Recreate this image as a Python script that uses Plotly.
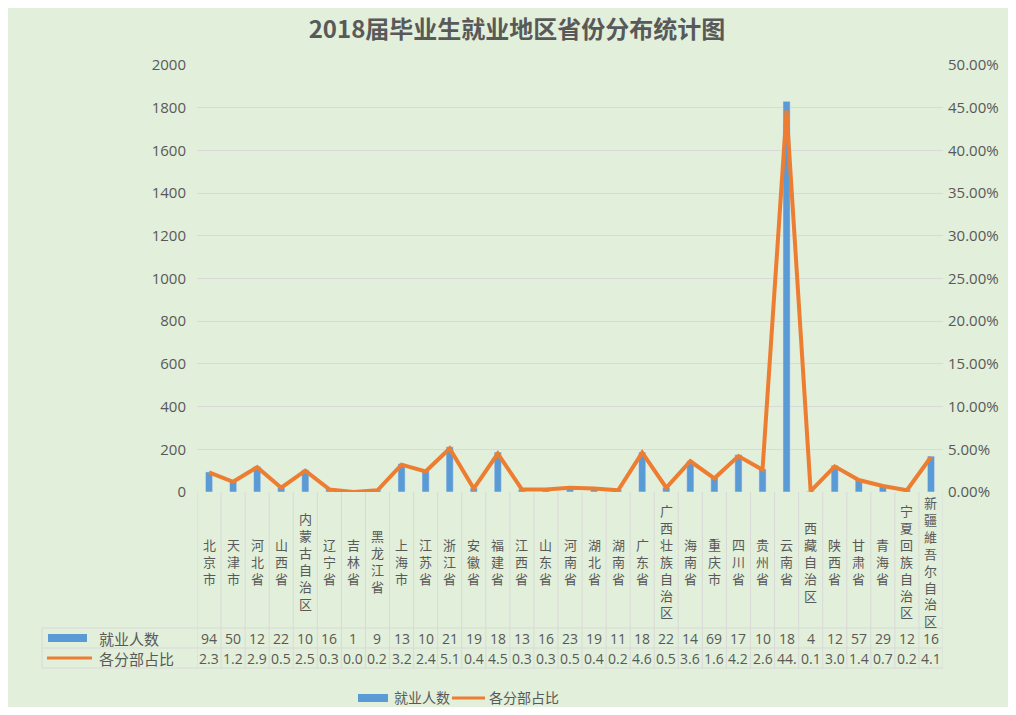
import plotly.graph_objects as go

# 数据
provinces = ["北京市", "天津市", "河北省", "山西省", "内蒙古自治区", "辽宁省", "吉林省",
             "黑龙江省", "上海市", "江苏省", "浙江省", "安徽省", "福建省", "江西省",
             "山东省", "河南省", "湖北省", "湖南省", "广东省", "广西壮族自治区", "海南省",
             "重庆市", "四川省", "贵州省", "云南省", "西藏自治区", "陕西省", "甘肃省",
             "青海省", "宁夏回族自治区", "新疆維吾尔自治区"]
employed = [94, 50, 120, 22, 104, 16, 1, 9, 133, 100, 212, 19, 187, 13, 16, 23, 19, 11,
            187, 22, 146, 69, 175, 108, 1830, 4, 125, 57, 29, 12, 168]
share_pct = [2.3, 1.2, 2.9, 0.5, 2.5, 0.3, 0.0, 0.2, 3.2, 2.4, 5.1, 0.4, 4.5, 0.3, 0.3, 0.5,
             0.4, 0.2, 4.6, 0.5, 3.6, 1.6, 4.2, 2.6, 44.7, 0.1, 3.0, 1.4, 0.7, 0.2, 4.1]

BG = "#E2EFDA"
GRID = "#D9D9D9"
TXT = "#595959"
BLUE = "#5B9BD5"
ORANGE = "#ED7D31"
FONT = "Noto Sans CJK SC"
NUMFONT = "Open Sans"

W, H = 1000, 699
ML, MR, MT, MB = 189, 65, 57, 215
PW, PH = W - ML - MR, H - MT - MB


def px(x):
    """fig px x -> paper x"""
    return (x - ML) / PW


def py(y):
    """fig px y -> paper y"""
    return (H - MB - y) / PH


fig = go.Figure()
fig.add_trace(go.Bar(
    x=provinces, y=employed, name="就业人数",
    marker=dict(color=BLUE), width=0.3, showlegend=False,
))
fig.add_trace(go.Scatter(
    x=provinces, y=[p / 100 for p in share_pct], name="各分部占比",
    mode="lines", line=dict(color=ORANGE, width=4), yaxis="y2", showlegend=False,
))

shapes = []
annotations = []
n = len(provinces)
y_tab_top, y_tab_mid, y_tab_bot = py(620), py(640), py(660)


def label(text, x, y, xref="paper", size=15, family=FONT, xanchor="left"):
    annotations.append(dict(text=text, xref=xref, yref="paper", x=x, y=y,
                            xanchor=xanchor, yanchor="middle", showarrow=False,
                            font=dict(size=size, color=TXT, family=family)))


# 分类区与数据表的网格线
for i in range(n + 1):
    shapes.append(dict(type="line", xref="x", yref="paper", x0=i - 0.5, x1=i - 0.5,
                       y0=0, y1=y_tab_bot, line=dict(color=GRID, width=1)))
for yy in (y_tab_top, y_tab_mid, y_tab_bot):
    shapes.append(dict(type="line", xref="paper", yref="paper", x0=px(34), x1=1,
                       y0=yy, y1=yy, line=dict(color=GRID, width=1)))
shapes.append(dict(type="line", xref="paper", yref="paper", x0=px(34), x1=px(34),
                   y0=y_tab_top, y1=y_tab_bot, line=dict(color=GRID, width=1)))

# 表头图例符号
shapes.append(dict(type="rect", xref="paper", yref="paper", x0=px(40), x1=px(79),
                   y0=py(634), y1=py(626), fillcolor=BLUE, line=dict(width=0)))
shapes.append(dict(type="line", xref="paper", yref="paper", x0=px(39), x1=px(84),
                   y0=py(650), y1=py(650), line=dict(color=ORANGE, width=3)))
label("就业人数", px(89), py(630), size=15)
label("各分部占比", px(89), py(650), size=15)

# 底部图例
shapes.append(dict(type="rect", xref="paper", yref="paper", x0=px(350), x1=px(380),
                   y0=py(694), y1=py(686), fillcolor=BLUE, line=dict(width=0)))
shapes.append(dict(type="line", xref="paper", yref="paper", x0=px(444), x1=px(477),
                   y0=py(690), y1=py(690), line=dict(color=ORANGE, width=3)))
label("就业人数", px(384), py(689), size=14)
label("各分部占比", px(479), py(689), size=14)

# 分类标签（竖排）与表格数值
for i, name in enumerate(provinces):
    label("<br>".join(name), i, py(553), xref="x", size=13, xanchor="center")
    label(str(employed[i])[:2], i, py(630), xref="x", size=14, family=NUMFONT,
          xanchor="center")
    label(f"{share_pct[i]:.2f}"[:3], i, py(650), xref="x", size=14, family=NUMFONT,
          xanchor="center")

fig.update_layout(
    width=W, height=H,
    margin=dict(l=ML, r=MR, t=MT, b=MB, autoexpand=False),
    paper_bgcolor=BG, plot_bgcolor=BG,
    title=dict(text="<b>2018届毕业生就业地区省份分布统计图</b>", x=509 / W, y=1 - 22 / H,
               xanchor="center", yanchor="middle",
               font=dict(size=24, color=TXT, family=FONT)),
    xaxis=dict(type="category", range=[-0.5, n - 0.5], showticklabels=False,
               showgrid=False, zeroline=False, showline=False, ticks=""),
    yaxis=dict(range=[0, 2000], dtick=200, gridcolor=GRID, zeroline=False,
               showline=False, ticklabelstandoff=10,
               tickfont=dict(size=15, color=TXT, family=NUMFONT)),
    yaxis2=dict(range=[0, 0.5], dtick=0.05, tickformat=".2%", overlaying="y", side="right",
                showgrid=False, zeroline=False, showline=False, ticklabelstandoff=4,
                tickfont=dict(size=15, color=TXT, family=NUMFONT)),
    showlegend=False,
    shapes=shapes, annotations=annotations,
)

fig.write_html("out.html")
